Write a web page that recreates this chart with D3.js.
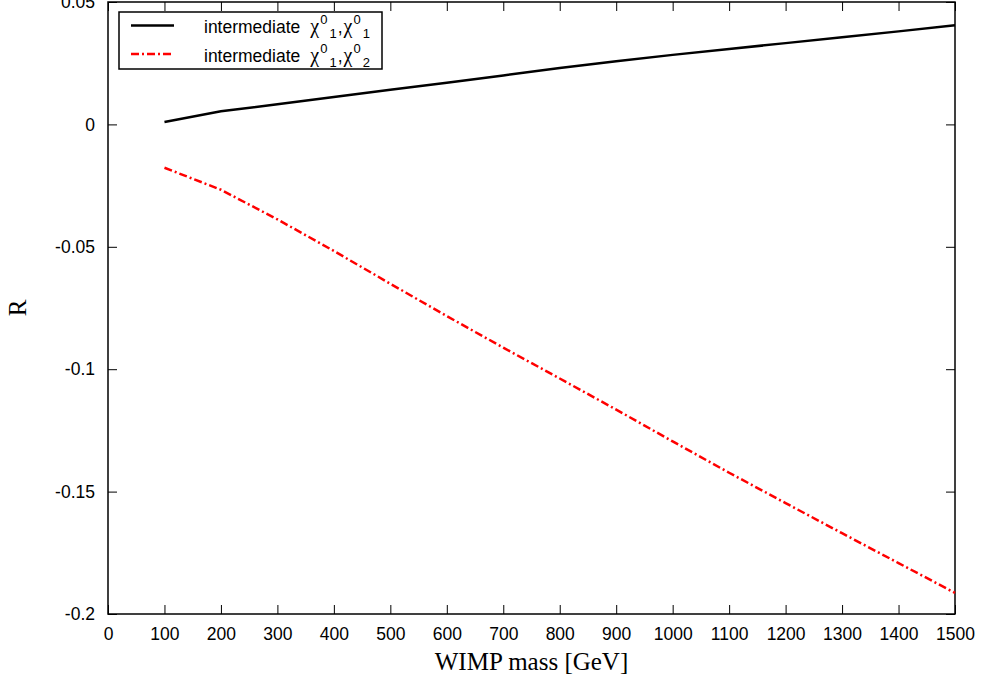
<!DOCTYPE html>
<html>
<head>
<meta charset="utf-8">
<script src="https://cdn.jsdelivr.net/npm/d3@7"></script>
<style>
	body { margin: 0; background: #fff; }
	svg { display: block; }
	.tick-label { font-family: 'Liberation Sans', Arial, sans-serif; font-size: 17.5px; fill: #000; }
	.axis-title { font-family: 'Liberation Serif', 'Times New Roman', serif; font-size: 25px; fill: #000; }
	.legend-text { font-family: 'Liberation Sans', Arial, sans-serif; font-size: 17.5px; fill: #000; }
	.greek { font-family: 'Liberation Serif', 'Times New Roman', serif; font-size: 20px; }
</style>
</head>
<body>
<svg id="chart"></svg>
<script>
// WIMP masses in GeV
var mass = [100, 200, 300, 400, 500, 600, 700, 800, 900, 1000, 1100, 1200, 1300, 1400, 1500];

// intermediate chi01,chi01
var rChi11 = [0.0010, 0.0054, 0.0082, 0.0112, 0.0142, 0.0170, 0.0200, 0.0230, 0.0258, 0.0284, 0.0308, 0.0332, 0.0356, 0.0380, 0.0405];

// intermediate chi01,chi02
var rChi12 = [-0.0177, -0.0267, -0.0388, -0.0517, -0.0651, -0.0783, -0.0912, -0.1038, -0.1165, -0.1295, -0.1423, -0.1547, -0.1670, -0.1792, -0.1914];

var xTicks = [0, 100, 200, 300, 400, 500, 600, 700, 800, 900, 1000, 1100, 1200, 1300, 1400, 1500];
var yTicks = [-0.2, -0.15, -0.1, -0.05, 0, 0.05];
var yTickLabels = ['-0.2', '-0.15', '-0.1', '-0.05', '0', '0.05'];

// set the dimensions and margins of the graph
var margin = {top: 2, right: 29, bottom: 70, left: 108},
	fullWidth = 984,
	fullHeight = 684,
	width = fullWidth - margin.left - margin.right,
	height = fullHeight - margin.top - margin.bottom;

var tickLen = 9;

var svg = d3.select('#chart')
	.attr('width', fullWidth)
	.attr('height', fullHeight);

var g = svg.append('g')
	.attr('transform', 'translate(' + margin.left + ',' + margin.top + ')');

var x = d3.scaleLinear()
	.domain([0, 1500])
	.range([0, width]);

var y = d3.scaleLinear()
	.domain([-0.2, 0.05])
	.range([height, 0]);

// ticks on all four sides, pointing inward
g.append('g')
	.attr('transform', 'translate(0,' + height + ')')
	.call(d3.axisBottom(x).tickValues(xTicks).tickSizeInner(-tickLen).tickSizeOuter(0).tickPadding(14)
		.tickFormat(function(d) { return String(d); }))
	.call(function(ax) {
		ax.select('.domain').remove();
		ax.selectAll('text').attr('class', 'tick-label').attr('font-size', null).attr('font-family', null);
	});

g.append('g')
	.call(d3.axisTop(x).tickValues(xTicks).tickSizeInner(-tickLen).tickSizeOuter(0).tickFormat(''))
	.call(function(ax) { ax.select('.domain').remove(); });

g.append('g')
	.call(d3.axisLeft(y).tickValues(yTicks).tickSizeInner(-tickLen).tickSizeOuter(0).tickPadding(13)
		.tickFormat(function(d, i) { return yTickLabels[i]; }))
	.call(function(ax) {
		ax.select('.domain').remove();
		ax.selectAll('text').attr('class', 'tick-label').attr('font-size', null).attr('font-family', null);
	});

g.append('g')
	.attr('transform', 'translate(' + width + ',0)')
	.call(d3.axisRight(y).tickValues(yTicks).tickSizeInner(-tickLen).tickSizeOuter(0).tickFormat(''))
	.call(function(ax) { ax.select('.domain').remove(); });

g.selectAll('.tick line')
	.attr('stroke', '#000')
	.attr('stroke-width', 1);

// frame
g.append('rect')
	.attr('width', width)
	.attr('height', height)
	.attr('fill', 'none')
	.attr('stroke', '#000')
	.attr('stroke-width', 1.5);

var line = d3.line()
	.x(function(d) { return x(d[0]); })
	.y(function(d) { return y(d[1]); });

g.append('path')
	.datum(d3.zip(mass, rChi11))
	.attr('d', line)
	.attr('fill', 'none')
	.attr('stroke', '#000')
	.attr('stroke-width', 2.5);

g.append('path')
	.datum(d3.zip(mass, rChi12))
	.attr('d', line)
	.attr('fill', 'none')
	.attr('stroke', '#ff0000')
	.attr('stroke-width', 2.5)
	.attr('stroke-dasharray', '8,3,2,3');

// axis titles
svg.append('text')
	.attr('class', 'axis-title')
	.attr('x', margin.left + width / 2)
	.attr('y', 670)
	.attr('text-anchor', 'middle')
	.text('WIMP mass [GeV]');

svg.append('text')
	.attr('class', 'axis-title')
	.attr('transform', 'translate(26,' + (margin.top + height / 2) + ') rotate(-90)')
	.attr('text-anchor', 'middle')
	.text('R');

// legend
var legend = svg.append('g')
	.attr('transform', 'translate(119,12)');

legend.append('rect')
	.attr('width', 263)
	.attr('height', 57)
	.attr('fill', '#fff')
	.attr('stroke', '#000')
	.attr('stroke-width', 1.5);

var legendItems = [
	{sub: '1', color: '#000', dash: null},
	{sub: '2', color: '#ff0000', dash: '8,3,2,3'}
];

var item = legend.selectAll('.legend-item')
	.data(legendItems)
	.enter()
	.append('g')
	.attr('class', 'legend-item')
	.attr('transform', function(d, i) {
		return 'translate(0,' + (13.5 + i * 28.5) + ')';
	});

item.append('line')
	.attr('x1', 12)
	.attr('x2', 55)
	.attr('stroke', function(d) { return d.color; })
	.attr('stroke-width', 2.5)
	.attr('stroke-dasharray', function(d) { return d.dash; });

var label = item.append('text')
	.attr('class', 'legend-text')
	.attr('x', 85)
	.attr('y', 7.5);

// chi with superscript 0 and subscript index, gnuplot style
label.append('tspan').text('intermediate');
label.append('tspan').attr('dx', 10).attr('class', 'greek').text('χ');
label.append('tspan').attr('dx', 1).attr('dy', -9).attr('font-size', 13).text('0');
label.append('tspan').attr('dx', 2).attr('dy', 14).attr('font-size', 13).text('1');
label.append('tspan').attr('dx', 1).attr('dy', -5).text(',');
label.append('tspan').attr('dx', 1).attr('class', 'greek').text('χ');
label.append('tspan').attr('dx', 1).attr('dy', -9).attr('font-size', 13).text('0');
label.append('tspan').attr('dx', 2).attr('dy', 14).attr('font-size', 13).text(function(d) { return d.sub; });
</script>
</body>
</html>
